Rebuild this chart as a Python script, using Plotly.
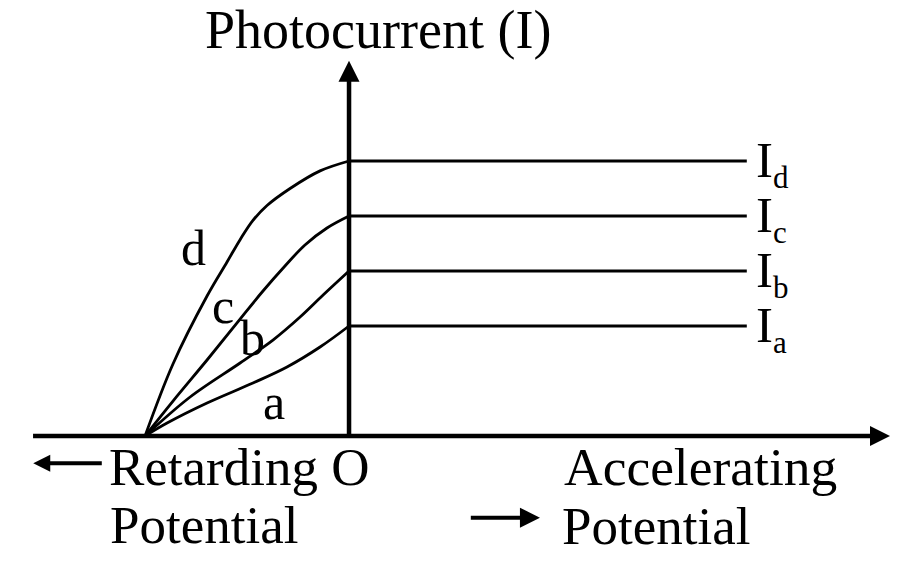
import plotly.graph_objects as go

# ---------------- data (arbitrary units: potential in units of stopping potential, current in units) ----------
stopping_potential = -1.0

potential_a = [-1.0, -0.892, -0.696, -0.471, -0.304, -0.142, 0.0]
current_a = [0.0, 0.236, 0.60, 0.964, 1.255, 1.618, 2.0]

potential_b = [-1.0, -0.779, -0.534, -0.373, -0.240, -0.127, 0.0]
current_b = [0.0, 0.709, 1.327, 1.745, 2.164, 2.564, 3.0]

potential_c = [-1.0, -0.863, -0.696, -0.549, -0.426, -0.314, -0.216, -0.108, 0.0]
current_c = [0.0, 0.636, 1.382, 2.055, 2.618, 3.091, 3.473, 3.782, 4.0]

potential_d = [-1.0, -0.863, -0.696, -0.598, -0.534, -0.471, -0.402, -0.289, -0.142, 0.0]
current_d = [0.0, 1.31, 2.545, 3.164, 3.57, 3.92, 4.19, 4.50, 4.82, 5.0]

curve_names = ["a", "b", "c", "d"]
saturation_current = [2.0, 3.0, 4.0, 5.0]
saturation_end = 1.95
saturation_subs = ["a", "b", "c", "d"]

# curve label positions (data units)
label_x = [-0.368, -0.471, -0.620, -0.760]
label_y = [0.622, 1.79, 2.367, 3.418]

# axis extents
x_axis_start, x_axis_end = -1.549, 2.652
y_axis_end = 6.824

FONT = "Liberation Serif"
BLACK = "#000000"

curves = [
    (potential_a, current_a),
    (potential_b, current_b),
    (potential_c, current_c),
    (potential_d, current_d),
]

fig = go.Figure()

for (px, py), sat in zip(curves, saturation_current):
    fig.add_trace(go.Scatter(
        x=px, y=py, mode="lines",
        line=dict(color=BLACK, width=2.8, shape="spline", smoothing=1.0),
        hoverinfo="skip", showlegend=False,
    ))
    fig.add_trace(go.Scatter(
        x=[0.0, saturation_end], y=[sat, sat], mode="lines",
        line=dict(color=BLACK, width=2.8),
        hoverinfo="skip", showlegend=False,
    ))


def arrow(x0, y0, x1, y1, xb, yb, symbol, size, width):
    """shaft from (x0,y0) to (xb,yb) and an arrowhead marker with its tip at (x1,y1)"""
    fig.add_trace(go.Scatter(
        x=[x0, xb], y=[y0, yb], mode="lines",
        line=dict(color=BLACK, width=width),
        hoverinfo="skip", showlegend=False,
    ))
    fig.add_trace(go.Scatter(
        x=[x1], y=[y1], mode="markers",
        marker=dict(symbol=symbol, size=size, color=BLACK, line=dict(width=0)),
        hoverinfo="skip", showlegend=False,
    ))


# axes
arrow(x_axis_start, 0, x_axis_end, 0, x_axis_end - 0.06, 0, "arrow-right", 20, 4.5)
arrow(0, 0, 0, y_axis_end, 0, y_axis_end - 0.25, "arrow-up", 21, 4.5)
# small direction arrows
arrow(-1.212, -0.496, -1.548, -0.496, -1.50, -0.496, "arrow-left", 17, 4)
arrow(0.597, -1.485, 0.936, -1.485, 0.88, -1.485, "arrow-right", 20, 4)

annotations = []


def txt(x, y, s, size, xanchor="center", yanchor="middle"):
    return dict(x=x, y=y, xref="x", yref="y", text=s, showarrow=False,
                xanchor=xanchor, yanchor=yanchor,
                font=dict(family=FONT, size=size, color=BLACK))


annotations.append(txt(0.142, 7.382, "Photocurrent (I)", 54))
annotations.append(txt(-0.539, -0.555, "Retarding O", 53))
annotations.append(txt(-0.713, -1.609, "Potential", 53))
annotations.append(txt(1.723, -0.555, "Accelerating", 53.5))
annotations.append(txt(1.507, -1.64, "Potential", 53))

for name, lx, ly in zip(curve_names, label_x, label_y):
    annotations.append(txt(lx, ly, name, 50))

for sub, sat in zip(saturation_subs, saturation_current):
    label = "I<sub><span style='font-size:31px'>" + sub + "</span></sub>"
    annotations.append(txt(1.985, sat - 0.05, label, 51, xanchor="left"))

fig.update_layout(
    width=900, height=564,
    margin=dict(l=0, r=0, t=0, b=0),
    paper_bgcolor="white", plot_bgcolor="white",
    xaxis=dict(range=[-1.711, 2.701], visible=False, fixedrange=True),
    yaxis=dict(range=[-2.327, 7.927], visible=False, fixedrange=True),
    annotations=annotations,
    showlegend=False,
)

fig.write_html(
    "out.html",
    config={"displayModeBar": False},
    post_script="document.body.style.margin='0';document.body.style.overflow='hidden';",
)
